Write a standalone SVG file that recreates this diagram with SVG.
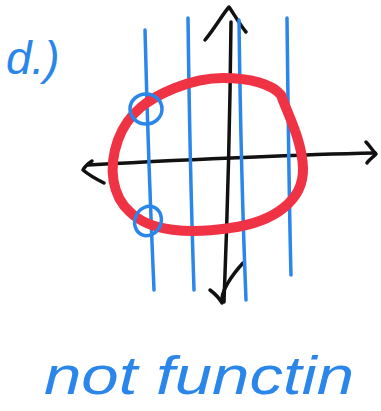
<svg xmlns="http://www.w3.org/2000/svg" width="381" height="411" viewBox="0 0 381 411">
<style>
.ax{fill:none;stroke:#111;stroke-width:3.5;stroke-linecap:round;stroke-linejoin:round}
.bl{fill:none;stroke:#2a86ea;stroke-width:3.5;stroke-linecap:round;stroke-linejoin:round}
.rd{fill:none;stroke:#ef3344;stroke-width:10;stroke-linecap:round;stroke-linejoin:round}
.tx{fill:#2a86ea;font-family:"Liberation Sans","DejaVu Sans",sans-serif;font-style:italic}
</style>
<rect width="381" height="411" fill="#fff"/>
<g id="connectors">
<path class="ax" d="M231,22 C230,120 228,200 224,302"/>
<path class="ax" d="M205,40 C215,28 222,15 229,7 C234,14 240,25 246,32"/>
<path class="ax" d="M243,263 C232,275 220,292 222,303 C218,296 214,293 210,290"/>
<path class="ax" d="M88,165 C180,160 280,155 375,153"/>
<path class="ax" d="M366,142 C370,146 372,150 376,154 C372,158 368,161 367,163"/>
<path class="ax" d="M92,161 C89,163 85,166 83,170 C90,176 98,180 104,183"/>
</g>
<g id="verticals">
<path class="bl" d="M145,30 C147,110 150,200 154,290"/>
<path class="bl" d="M188,18 C189,100 191,200 194,290"/>
<path class="bl" d="M239,20 C240,100 242,200 246,300"/>
<path class="bl" d="M287,18 C288,100 289,200 291,275"/>
</g>
<g id="relation">
<path class="rd" d="M223,78 C250,78 272,84 281,95 C288,115 302,140 303,168 C304,200 275,222 230,228 C190,234 150,232 130,212 C112,196 108,168 118,140 C128,112 150,98 175,88 C190,82 205,78 223,78 Z"/>
</g>
<g id="circles">
<ellipse class="bl" cx="146" cy="109" rx="16" ry="15"/>
<ellipse class="bl" cx="148" cy="221" rx="13" ry="15" transform="rotate(25 148 221)"/>
</g>
<g id="labels">
<text class="tx" x="6" y="74" font-size="46">d.)</text>
<text class="tx" x="44" y="394" font-size="54" textLength="310" lengthAdjust="spacingAndGlyphs">not functin</text>
</g>
</svg>
